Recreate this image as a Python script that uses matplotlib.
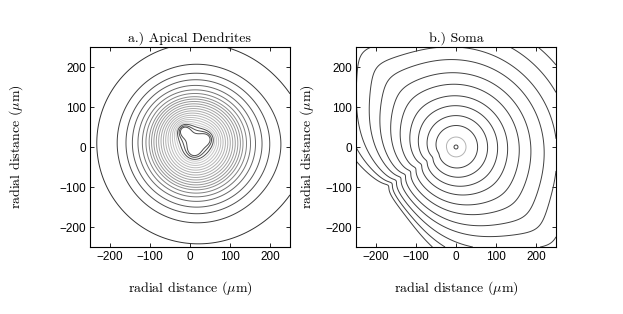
import numpy as np
import matplotlib
matplotlib.use("Agg")
import matplotlib.pyplot as plt

plt.rcParams['mathtext.fontset'] = 'cm'
plt.rcParams['font.family'] = ['Liberation Sans', 'DejaVu Sans']

# grid extent (um)
lim = 250

# panel a: broad dendritic source + three lobes of the apical tuft
a_src_x = [14, -14, 40, 10, 300]
a_src_y = [6, 40, 20, -10, 0]
a_src_w = [1.0, 0.09, 0.07, 0.06, 0.12]
a_src_d = [70, 11, 11, 11, 150]
a_radii = [247, 196, 174, 158, 144, 133, 124, 116, 110, 104, 98, 92, 86,
           80, 74, 68, 62, 56, 50, 44, 38, 30, 22]
a_dark_outer = 7
a_dark_inner = 3

# panel b: soma, dendrite along the NW-SE diagonal, sinks to the lower left
dend_t = np.linspace(-1, 1, 41)
kink_t = np.linspace(0, 1, 40)
kink_s = 225 * kink_t
b_src_x = [0, -230] + list(-300 * dend_t) + list(-25 - 190 * kink_t)
b_src_y = [0, -210] + list(300 * dend_t) + list(-5 - 120 * kink_t)
b_src_w = [1.0, -0.33] + [0.006] * 41 + list(-0.0065 * (40 / (40 + kink_s)) ** 1.3)
b_src_d = [6, 90] + [50] * 41 + [6] * 40
b_radii = [5, 25, 54, 79, 104, 129, 158, 187, 220, 252, 290, 330, 370]


def field(X, Y, xs, ys, ws, ds):
    V = np.zeros_like(X)
    for x0, y0, w, d in zip(xs, ys, ws, ds):
        V += w / np.sqrt((X - x0) ** 2 + (Y - y0) ** 2 + d ** 2)
    return V


g = np.linspace(-lim, lim, 501)
X, Y = np.meshgrid(g, g)

fig = plt.figure(figsize=(6.23, 3.14), dpi=100)
ax_a = fig.add_axes([90 / 623, 67 / 314, 200 / 623, 200 / 314])
ax_b = fig.add_axes([356 / 623, 67 / 314, 200 / 623, 200 / 314])

# panel a
Va = field(X, Y, a_src_x, a_src_y, a_src_w, a_src_d)
ra = np.array(a_radii, float)
lev_a = field(14 - ra, 6 + 0 * ra, a_src_x, a_src_y, a_src_w, a_src_d)
order = np.argsort(lev_a)
lev_a = lev_a[order]
n_light = len(a_radii) - a_dark_outer - a_dark_inner
shades = list(np.linspace(0.2, 0.5, a_dark_outer)) + \
    list(np.linspace(0.55, 0.8, n_light)) + [0.3] * a_dark_inner
cols_a = [str(s) for s in np.array(shades)[order]]
ax_a.contour(X, Y, Va, levels=lev_a, colors=cols_a, linewidths=0.7)

# panel b
Vb = field(X, Y, b_src_x, b_src_y, b_src_w, b_src_d)
rb = np.array(b_radii, float)
lev_b = field(rb, 0 * rb, b_src_x, b_src_y, b_src_w, b_src_d)
order = np.argsort(lev_b)
lev_b = lev_b[order]
shades_b = [0.25, 0.7] + [0.25] * (len(b_radii) - 2)
cols_b = [str(s) for s in np.array(shades_b)[order]]
ax_b.contour(X, Y, Vb, levels=lev_b, colors=cols_b, linewidths=0.7)

label = r'radial distance ($\mu$m)'
for ax, title, ylx in [(ax_a, 'a.) Apical Dendrites', -0.325),
                       (ax_b, 'b.) Soma', -0.2)]:
    ax.set_xlim(-lim, lim)
    ax.set_ylim(-lim, lim)
    ax.set_xticks([-200, -100, 0, 100, 200])
    ax.set_yticks([-200, -100, 0, 100, 200])
    ax.tick_params(direction='in', length=3, width=0.6, top=True, right=True,
                   labelsize=8.5, pad=3)
    for sp in ax.spines.values():
        sp.set_linewidth(0.8)
    ax.set_title(title, fontsize=10, pad=4, family='cmr10')
    ax.set_xlabel(label, fontsize=10, family='cmr10')
    ax.xaxis.set_label_coords(0.5, -0.16)
    ax.set_ylabel(label, fontsize=10, family='cmr10')
    ax.yaxis.set_label_coords(ylx, 0.5)

fig.savefig('out.png', dpi=100)
